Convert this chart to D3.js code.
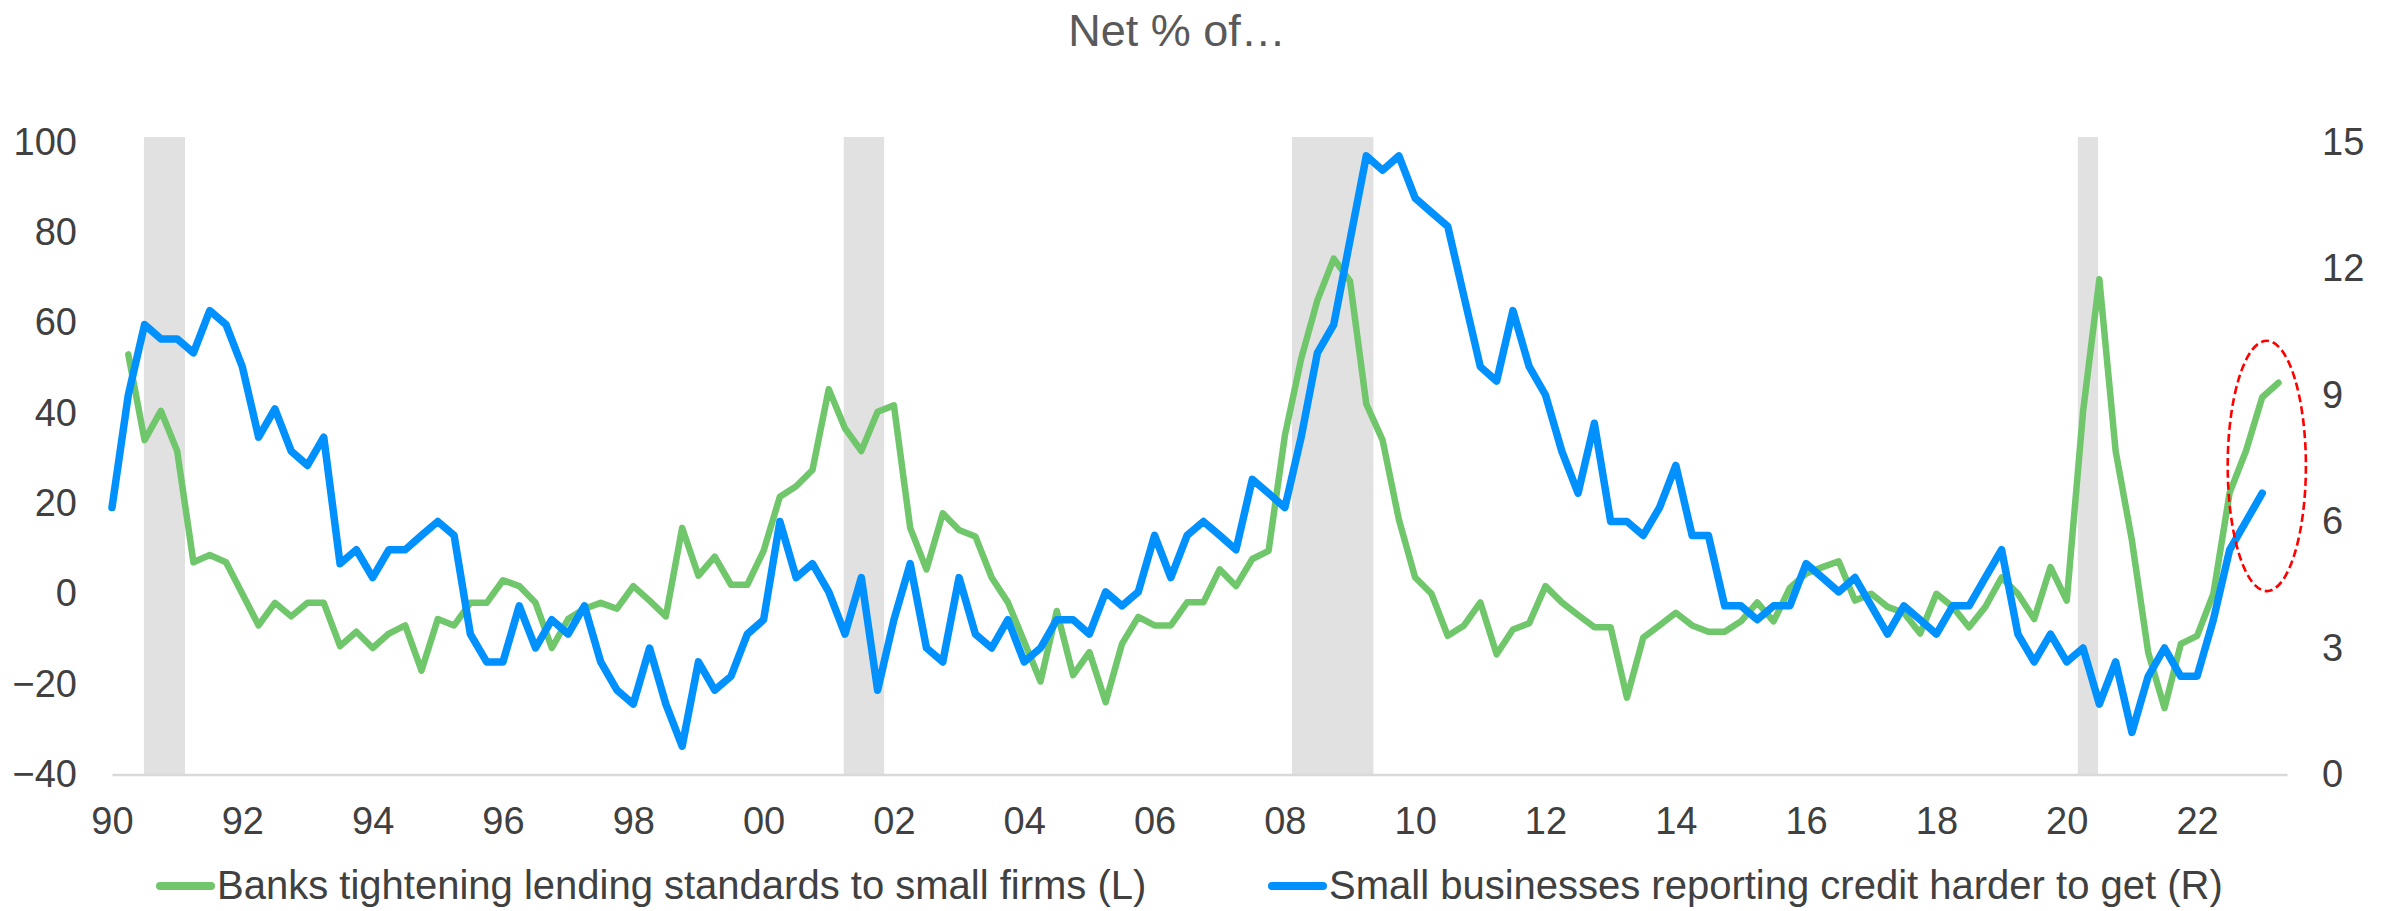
<!DOCTYPE html>
<html>
<head>
<meta charset="utf-8">
<script src="https://cdn.jsdelivr.net/npm/d3@7"></script>
<style>
  html, body { margin: 0; padding: 0; background: #ffffff; }
  svg { display: block; font-family: "Liberation Sans", Arial, sans-serif; }
</style>
</head>
<body>
<svg id="chart" width="2397" height="911"></svg>
<script>
// ---------------- DATA ----------------
const title = "Net % of…";
const seriesNames = [
  "Banks tightening lending standards to small firms (L)",
  "Small businesses reporting credit harder to get (R)"
];
// quarterly categories, 1990Q1 .. 2023Q2
const firstYear = 1990;
const quarters = [];
for (let y = 1990; y <= 2023; y++) for (let q = 1; q <= 4; q++) quarters.push(y + "Q" + q);
quarters.length = 134;

// Banks tightening lending standards to small firms (left axis), starts 1990Q2
const greenStart = "1990Q2";
const banksTightening = [
  53, 34, 40.5, 31.6, 7, 8.6, 7, 0, -7, -2,
  -5, -2, -2, -11.6, -8.4, -12, -8.8, -7, -17, -5.6,
  -7, -2, -2, 3, 1.7, -2, -12, -5.6, -3.3, -2,
  -3.3, 1.7, -1.5, -5, 14.6, 4, 8.2, 2, 2, 9.5,
  21.5, 23.8, 27.4, 45.3, 36.6, 31.6, 40.3, 41.7, 14.6, 5.4,
  17.8, 14.1, 12.7, 3.6, -1.9, -10.6, -19.4, -3.8, -18, -12.9,
  -24, -11.1, -5.1, -7, -7, -1.9, -1.9, 5.4, 1.7, 7.7,
  9.5, 35, 52, 65, 74.2, 69.2, 42, 34, 16.4, 3.6,
  0, -9.3, -7, -1.9, -13.4, -7.9, -6.5, 1.7, -1.9, -4.7,
  -7.4, -7.4, -23, -9.7, -7, -4.2, -7, -8.4, -8.4, -6.1,
  -1.9, -6.1, 1.3, 4.5, 5.9, 7.2, -1.5, 0, -2.9, -4.2,
  -8.8, 0, -2.9, -7.4, -2.9, 3.6, 0, -5.6, 5.9, -1.5,
  40.3, 69.6, 31.6, 11.8, -13, -25.3, -11.1, -9.3, 0, 22.4,
  31.6, 43.5, 46.7
];
// Small businesses reporting credit harder to get (right axis), starts 1990Q1
const blueStart = "1990Q1";
const creditHarder = [
  6.33, 9.0, 10.67, 10.33, 10.33, 10.0, 11.0, 10.67, 9.67, 8.0,
  8.67, 7.67, 7.33, 8.0, 5.0, 5.33, 4.67, 5.33, 5.33, 5.67,
  6.0, 5.67, 3.33, 2.67, 2.67, 4.0, 3.0, 3.67, 3.33, 4.0,
  2.67, 2.0, 1.67, 3.0, 1.67, 0.67, 2.67, 2.0, 2.33, 3.33,
  3.67, 6.0, 4.67, 5.0, 4.33, 3.33, 4.67, 2.0, 3.67, 5.0,
  3.0, 2.67, 4.67, 3.33, 3.0, 3.67, 2.67, 3.0, 3.67, 3.67,
  3.33, 4.33, 4.0, 4.33, 5.67, 4.67, 5.67, 6.0, 5.67, 5.33,
  7.0, 6.67, 6.33, 8.0, 10.0, 10.67, 12.67, 14.67, 14.33, 14.67,
  13.67, 13.33, 13.0, 11.33, 9.67, 9.33, 11.0, 9.67, 9.0, 7.67,
  6.67, 8.33, 6.0, 6.0, 5.67, 6.33, 7.33, 5.67, 5.67, 4.0,
  4.0, 3.67, 4.0, 4.0, 5.0, 4.67, 4.33, 4.67, 4.0, 3.33,
  4.0, 3.67, 3.33, 4.0, 4.0, 4.67, 5.33, 3.33, 2.67, 3.33,
  2.67, 3.0, 1.67, 2.67, 1.0, 2.33, 3.0, 2.33, 2.33, 3.67,
  5.33, 6.0, 6.67
];
// Recession shading (decimal years)
const recessionStart = [1990.49, 2001.23, 2008.11, 2020.17];
const recessionEnd   = [1991.12, 2001.85, 2009.36, 2020.48];
// Axis ticks
const xTickYears = [1990,1992,1994,1996,1998,2000,2002,2004,2006,2008,2010,2012,2014,2016,2018,2020,2022];
const xTickLabels = ["90","92","94","96","98","00","02","04","06","08","10","12","14","16","18","20","22"];
const leftTicks = [-40, -20, 0, 20, 40, 60, 80, 100];
const rightTicks = [0, 3, 6, 9, 12, 15];
// Annotation ellipse around latest readings (center in data units)
const highlight = { year: 2023.07, value: 28.3, halfYears: 0.6, halfValue: 27.7 };

// ---------------- LAYOUT ----------------
const svg = d3.select("#chart");
const plot = { left: 112, right: 2287, top: 142, bottom: 774.5 };
const colors = { green: "#70C66A", blue: "#0091FF", band: "#E1E1E1", axis: "#D9D9D9", text: "#404040", title: "#595959" };

const x = d3.scaleLinear().domain([1990, 2023.38]).range([plot.left, plot.right]);
const yL = d3.scaleLinear().domain([-40, 100]).range([plot.bottom, plot.top]);
const yR = d3.scaleLinear().domain([0, 15]).range([plot.bottom, plot.top]);

const qTime = q => firstYear + quarters.indexOf(q) * 0.25;

// Recession bands
svg.append("g").selectAll("rect")
  .data(recessionStart.map((s, i) => [s, recessionEnd[i]]))
  .join("rect")
  .attr("x", d => x(d[0]))
  .attr("width", d => x(d[1]) - x(d[0]))
  .attr("y", yL(101.1))
  .attr("height", plot.bottom - yL(101.1))
  .attr("fill", colors.band);

// X axis
const xAxis = d3.axisBottom(x).tickValues(xTickYears)
  .tickFormat((d, i) => xTickLabels[i]).tickSizeInner(0).tickSizeOuter(0).tickPadding(33);
const gx = svg.append("g").attr("transform", `translate(0,${plot.bottom})`).call(xAxis);
gx.select(".domain").attr("stroke", colors.axis).attr("stroke-width", 2.5);
gx.selectAll("text").attr("fill", colors.text).style("font-size", "38px");

// Left axis
const gl = svg.append("g").attr("transform", `translate(${plot.left},0)`)
  .call(d3.axisLeft(yL).tickValues(leftTicks).tickSize(0).tickPadding(35));
gl.select(".domain").remove();
gl.selectAll("text").attr("fill", colors.text).style("font-size", "38px");

// Right axis
const gr = svg.append("g").attr("transform", `translate(${plot.right},0)`)
  .call(d3.axisRight(yR).tickValues(rightTicks).tickSize(0).tickPadding(35));
gr.select(".domain").remove();
gr.selectAll("text").attr("fill", colors.text).style("font-size", "38px");

// Lines
const g0 = qTime(greenStart), b0 = qTime(blueStart);
const greenLine = d3.line().x((d, i) => x(g0 + i * 0.25)).y(d => yL(d));
const blueLine = d3.line().x((d, i) => x(b0 + i * 0.25)).y(d => yR(d));

svg.append("path").datum(banksTightening).attr("d", greenLine)
  .attr("fill", "none").attr("stroke", colors.green).attr("stroke-width", 6.5)
  .attr("stroke-linejoin", "round").attr("stroke-linecap", "round");
svg.append("path").datum(creditHarder).attr("d", blueLine)
  .attr("fill", "none").attr("stroke", colors.blue).attr("stroke-width", 7.5)
  .attr("stroke-linejoin", "round").attr("stroke-linecap", "round");

// Highlight ellipse
svg.append("ellipse")
  .attr("cx", x(highlight.year)).attr("cy", yL(highlight.value))
  .attr("rx", x(highlight.year + highlight.halfYears) - x(highlight.year))
  .attr("ry", yL(highlight.value - highlight.halfValue) - yL(highlight.value))
  .attr("fill", "none").attr("stroke", "#FF0000").attr("stroke-width", 2.6)
  .attr("stroke-dasharray", "8,4");

// Title
svg.append("text").attr("x", 1177).attr("y", 46).attr("text-anchor", "middle")
  .attr("fill", colors.title).style("font-size", "45px").text(title);

// Legend
const legendItems = [
  { name: seriesNames[0], color: colors.green, x: 160 },
  { name: seriesNames[1], color: colors.blue, x: 1272 }
];
const lg = svg.append("g").selectAll("g").data(legendItems).join("g");
lg.append("line").attr("x1", d => d.x).attr("x2", d => d.x + 51)
  .attr("y1", 886).attr("y2", 886).attr("stroke", d => d.color)
  .attr("stroke-width", 8).attr("stroke-linecap", "round");
lg.append("text").attr("x", d => d.x + 57).attr("y", 899)
  .attr("fill", colors.text).style("font-size", "40px").text(d => d.name);
</script>
</body>
</html>
